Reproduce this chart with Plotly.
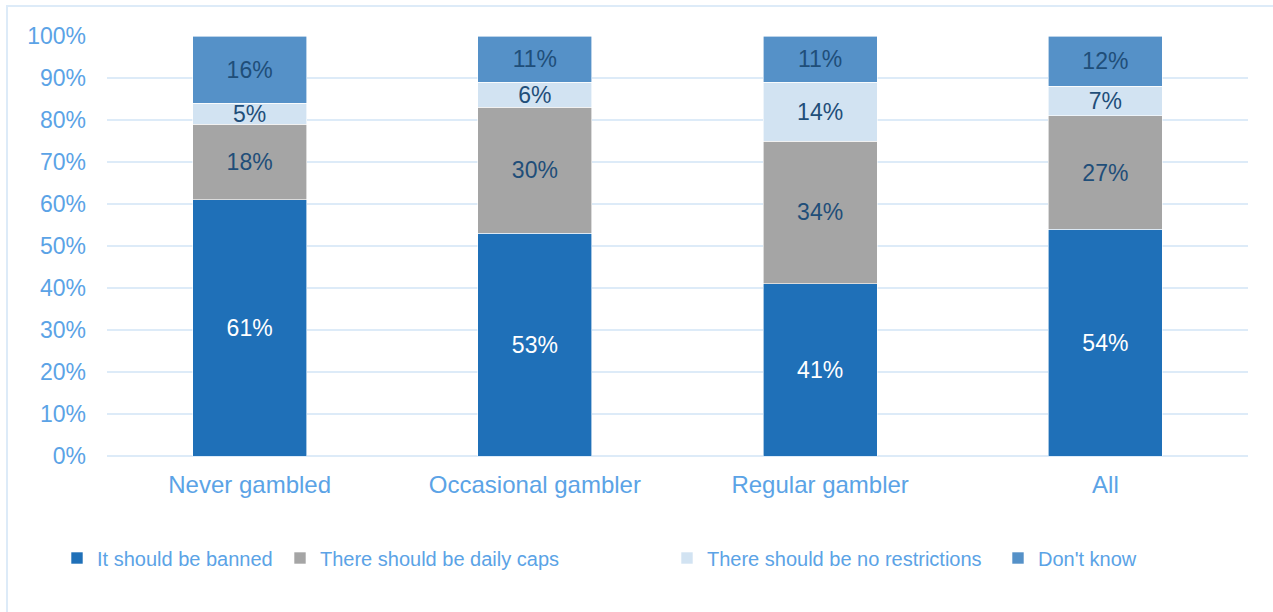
import plotly.graph_objects as go

categories = ["Never gambled", "Occasional gambler", "Regular gambler", "All"]
series_names = ["It should be banned", "There should be daily caps",
                "There should be no restrictions", "Don't know"]
banned = [61, 53, 41, 54]
daily_caps = [18, 30, 34, 27]
no_restrictions = [5, 6, 14, 7]
dont_know = [16, 11, 11, 12]
y_ticks = list(range(0, 101, 10))
y_tick_labels = [f"{v}%" for v in y_ticks]

values = [banned, daily_caps, no_restrictions, dont_know]
colors = ["#1F70B8", "#A5A5A5", "#D2E3F2", "#5591C8"]
text_colors = ["#FFFFFF", "#1F4E79", "#1F4E79", "#1F4E79"]

W, H = 1273, 612
L, R, T, B = 107, 25, 36, 156
pw, ph = W - L - R, H - T - B

def px_x(x):
    return (x - L) / pw

def px_y(y):
    return (H - B - y) / ph

tick_color = "#5BA3E6"
font_family = "Liberation Sans, Arial, sans-serif"

fig = go.Figure()
legend_text_x = [97, 320, 707, 1038]
for i, (name, vals) in enumerate(zip(series_names, values)):
    lg = "legend" if i == 0 else f"legend{i+1}"
    fig.add_trace(go.Bar(
        x=categories, y=vals, name=name,
        marker=dict(color=colors[i], line=dict(color="#FFFFFF", width=0.6)),
        text=[f"{v}%" for v in vals], texttemplate="%{text}",
        textposition="inside", insidetextanchor="middle", textangle=0,
        constraintext="none",
        textfont=dict(color=text_colors[i], size=23, family=font_family),
        width=0.4, legend=lg, showlegend=True,
    ))

legend_common = dict(orientation="h", yanchor="middle", xanchor="left",
                     font=dict(size=20, color=tick_color, family=font_family),
                     bgcolor="rgba(0,0,0,0)", itemwidth=30)
legends = {}
for i, lx in enumerate(legend_text_x):
    key = "legend" if i == 0 else f"legend{i+1}"
    legends[key] = dict(legend_common, x=px_x(lx - 40), y=px_y(558))

fig.update_layout(
    width=W, height=H,
    margin=dict(l=L, r=R, t=T, b=B),
    barmode="stack",
    plot_bgcolor="white", paper_bgcolor="white",
    font=dict(family=font_family, color=tick_color),
    xaxis=dict(showgrid=False, showline=False, zeroline=False,
               tickfont=dict(size=24, color=tick_color), ticks="",
               ticklabelstandoff=12),
    yaxis=dict(range=[0, 100], tickmode="array", tickvals=y_ticks,
               ticktext=y_tick_labels,
               showgrid=True, gridcolor="#DDEBF8", gridwidth=2,
               zeroline=True, zerolinecolor="#DDEBF8", zerolinewidth=2,
               showline=False, ticks="",
               tickfont=dict(size=23, color=tick_color),
               ticklabelstandoff=20),
    shapes=[dict(type="rect", xref="paper", yref="paper",
                 x0=px_x(7), x1=px_x(1300), y0=px_y(640), y1=px_y(6),
                 line=dict(color="#DDEBF8", width=2), layer="below")],
    **legends,
)

fig.write_html("out.html")
